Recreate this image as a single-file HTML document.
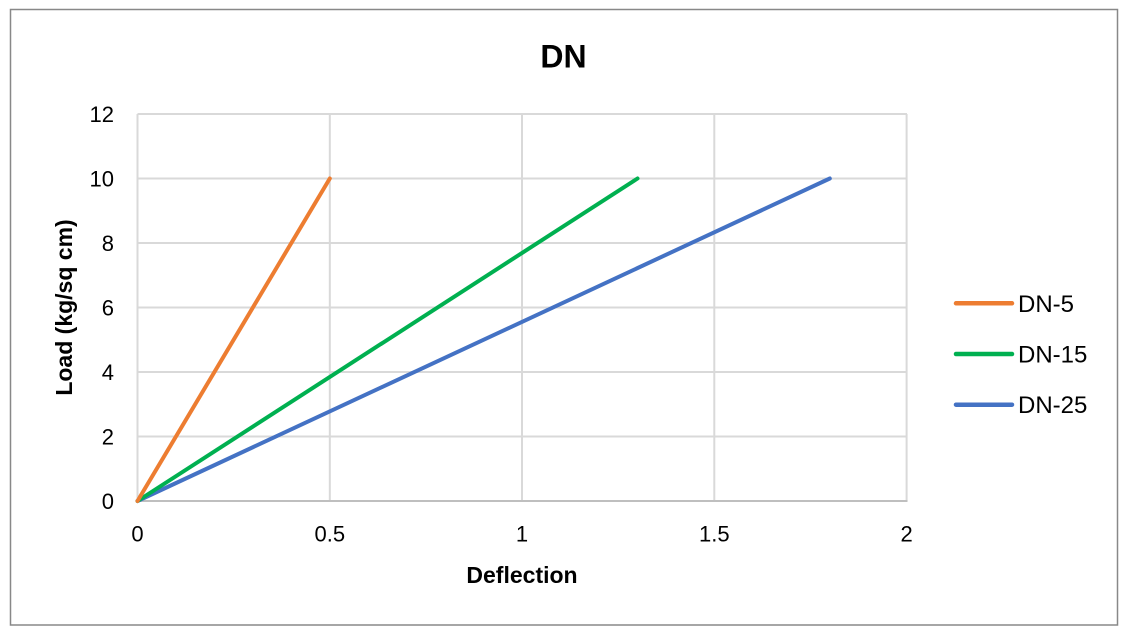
<!DOCTYPE html>
<html>
<head>
<meta charset="utf-8">
<style>
html,body{margin:0;padding:0;background:#fff;}
svg{display:block;}
text{font-family:"Liberation Sans",sans-serif;fill:#000;}
</style>
</head>
<body>
<svg width="1127" height="639" viewBox="0 0 1127 639" xmlns="http://www.w3.org/2000/svg">
<rect x="0" y="0" width="1127" height="639" fill="#fff"/>
<rect x="10.5" y="9.5" width="1107" height="615.5" fill="#fff" stroke="#888" stroke-width="1.5"/>

<!-- gridlines -->
<g stroke="#d9d9d9" stroke-width="2">
  <line x1="137.5" y1="114" x2="907" y2="114"/>
  <line x1="137.5" y1="178.5" x2="907" y2="178.5"/>
  <line x1="137.5" y1="243" x2="907" y2="243"/>
  <line x1="137.5" y1="307.5" x2="907" y2="307.5"/>
  <line x1="137.5" y1="372" x2="907" y2="372"/>
  <line x1="137.5" y1="436.5" x2="907" y2="436.5"/>
  <line x1="137.5" y1="114" x2="137.5" y2="501"/>
  <line x1="329.8" y1="114" x2="329.8" y2="501"/>
  <line x1="522" y1="114" x2="522" y2="501"/>
  <line x1="714.3" y1="114" x2="714.3" y2="501"/>
  <line x1="906.6" y1="114" x2="906.6" y2="501"/>
</g>
<line x1="137.5" y1="501" x2="907.5" y2="501" stroke="#bfbfbf" stroke-width="2"/>

<!-- series -->
<g stroke-width="4" stroke-linecap="round" fill="none">
  <line x1="137.5" y1="501" x2="829.8" y2="178.5" stroke="#4472C4"/>
  <line x1="137.5" y1="501" x2="637.5" y2="178.5" stroke="#00B050"/>
  <line x1="137.5" y1="501" x2="329.8" y2="178.5" stroke="#ED7D31"/>
</g>

<!-- title -->
<text x="563.5" y="67.5" font-size="32" font-weight="bold" text-anchor="middle">DN</text>

<!-- y ticks -->
<g font-size="22" text-anchor="end">
  <text x="114" y="121.8">12</text>
  <text x="114" y="186.3">10</text>
  <text x="114" y="250.8">8</text>
  <text x="114" y="315.3">6</text>
  <text x="114" y="379.8">4</text>
  <text x="114" y="444.3">2</text>
  <text x="114" y="508.8">0</text>
</g>

<!-- x ticks -->
<g font-size="22" text-anchor="middle">
  <text x="137.5" y="541.5">0</text>
  <text x="329.8" y="541.5">0.5</text>
  <text x="522" y="541.5">1</text>
  <text x="714.3" y="541.5">1.5</text>
  <text x="906.6" y="541.5">2</text>
</g>

<!-- axis titles -->
<text x="522" y="583" font-size="23" font-weight="bold" text-anchor="middle">Deflection</text>
<text transform="translate(72,307.5) rotate(-90)" x="0" y="0" font-size="23" font-weight="bold" text-anchor="middle">Load (kg/sq cm)</text>

<!-- legend -->
<g stroke-width="4.5" stroke-linecap="round">
  <line x1="956" y1="303.3" x2="1012" y2="303.3" stroke="#ED7D31"/>
  <line x1="956" y1="354" x2="1012" y2="354" stroke="#00B050"/>
  <line x1="956" y1="404.7" x2="1012" y2="404.7" stroke="#4472C4"/>
</g>
<g font-size="24">
  <text x="1018" y="311.8">DN-5</text>
  <text x="1018" y="362.5">DN-15</text>
  <text x="1018" y="413.2">DN-25</text>
</g>
</svg>
</body>
</html>
